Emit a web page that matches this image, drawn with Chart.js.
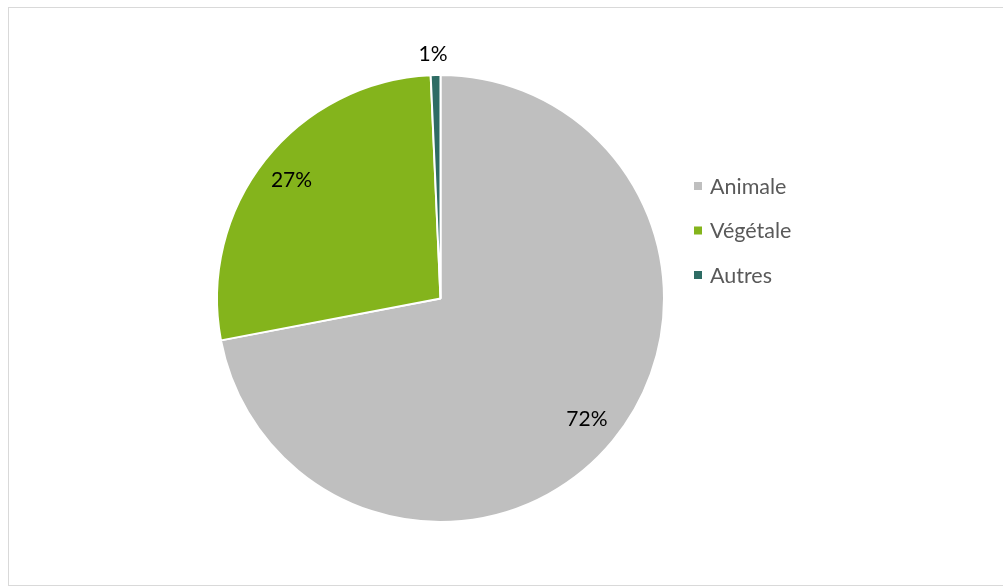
<!DOCTYPE html>
<html><head><meta charset="utf-8">
<script src="https://cdn.jsdelivr.net/npm/chart.js@4/dist/chart.umd.min.js"></script>
<style>
html,body{margin:0;padding:0;background:#fff;overflow:hidden;}
#wrap{position:relative;width:1003px;height:588px;}
#frame{position:absolute;left:8px;top:7px;width:1010px;height:579px;border:1.5px solid #D9D9D9;box-sizing:border-box;}
canvas{position:absolute;left:0;top:0;}
</style></head>
<body><div id="wrap"><div id="frame"></div><canvas id="c" width="1003" height="588"></canvas></div>
<script>
const categories = ["Animale", "Végétale", "Autres"];
const values = [72.0, 27.3, 0.7];
const labels = ["72%", "27%", "1%"];
const colors = ["#BFBFBF", "#84B41C", "#2E6C64"];

const FONT = "Lato, 'Open Sans', sans-serif";

const labelPlugin = {
  id: 'lbls',
  afterDatasetsDraw(chart) {
    const ctx = chart.ctx;
    const meta = chart.getDatasetMeta(0);
    ctx.save();
    ctx.font = "21px " + FONT;
    ctx.fillStyle = "#000";
    ctx.textAlign = "center";
    ctx.textBaseline = "middle";
    meta.data.forEach((arc, i) => {
      const p = arc.getProps(['x','y','startAngle','endAngle','outerRadius'], true);
      const mid = (p.startAngle + p.endAngle) / 2;
      const r = values[i] < 3 ? p.outerRadius + 21 : p.outerRadius * 0.85;
      ctx.fillText(labels[i], p.x + Math.cos(mid) * r - (values[i] < 3 ? 2 : 0), p.y + Math.sin(mid) * r);
    });
    // legend
    ctx.textAlign = "left";
    ctx.font = "21.5px " + FONT;
    categories.forEach((c, i) => {
      const y = 186 + i * 44.5;
      ctx.fillStyle = colors[i];
      ctx.fillRect(694, y - 4, 8, 8);
      ctx.fillStyle = "#595959";
      ctx.fillText(c, 710, y + 1);
    });
    ctx.restore();
  }
};

new Chart(document.getElementById('c'), {
  type: 'pie',
  data: {
    labels: categories,
    datasets: [{ data: values, backgroundColor: colors, borderColor: "#fff", borderWidth: 2 }]
  },
  options: {
    responsive: false,
    animation: false,
    layout: { padding: { left: 216, right: 338, top: 74, bottom: 65 } },
    plugins: { legend: { display: false }, tooltip: { enabled: false } }
  },
  plugins: [labelPlugin]
});
</script></body></html>
